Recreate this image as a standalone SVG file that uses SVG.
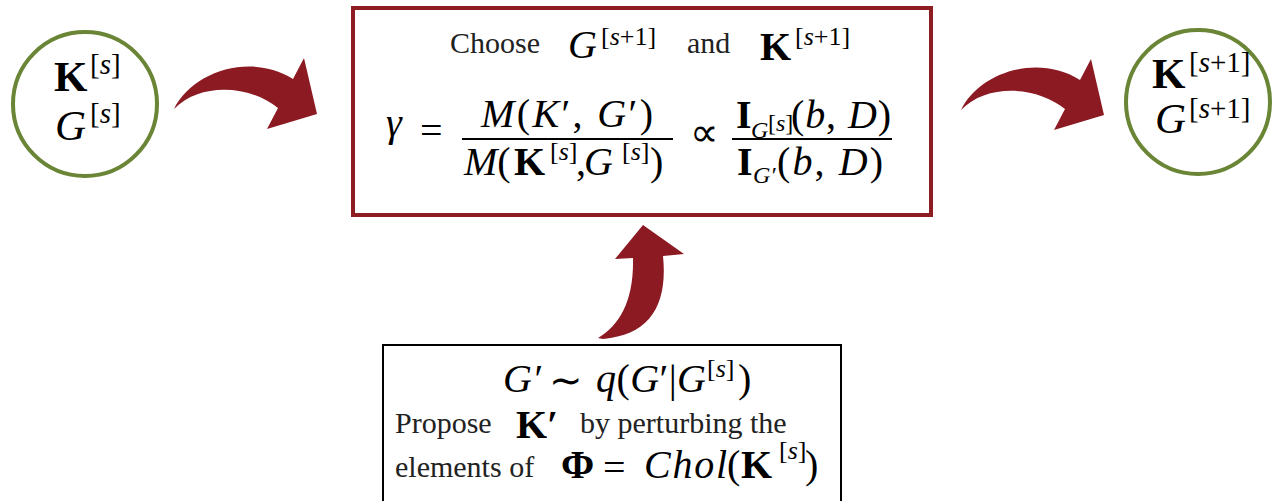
<svg xmlns="http://www.w3.org/2000/svg" width="1284" height="501" viewBox="0 0 1284 501">
<style>
.t{font-family:"Liberation Serif",serif;font-size:30px;fill:#222}
.m{font-family:"Liberation Serif",serif;font-size:40px;fill:#000}
.b{font-family:"Liberation Serif",serif;font-size:43px;fill:#000}
.s{font-family:"Liberation Serif",serif;font-size:26px;fill:#000}
.ss{font-family:"Liberation Serif",serif;font-size:29px;fill:#000}
.sb{font-family:"Liberation Serif",serif;font-size:24px;fill:#000}
.i{font-style:italic}
.w{font-weight:bold}
.circ{fill:#fff;stroke:#6a8535;stroke-width:4}
.arrow{fill:#8c1a22}
.rule{stroke:#000;stroke-width:1.8}
</style>
<rect width="1284" height="501" fill="#fff"/>
<g id="connectors">
<path class="arrow" d="M174,109 C192,72 250,52 293,79 L304,58 L317,114 L267,129 L278,108 C250,85 200,82 174,109 Z"/>
<path class="arrow" d="M961,110 C979,73 1037,53 1080,80 L1091,59 L1104,115 L1054,130 L1065,109 C1037,86 987,83 961,110 Z"/>
<path class="arrow" d="M598,338 C620,325 634,300 633,258 L615,259 L643,225 L684,254 L663,256 C668,305 650,335 603,339 Z"/>
</g>
<g id="node-left">
<circle class="circ" cx="85" cy="104" r="72"/>
<text class="b w" x="54" y="91">K</text>
<text class="ss" x="90" y="74">[<tspan class="i">s</tspan>]</text>
<text class="b i" x="55" y="140">G</text>
<text class="ss" x="90" y="123">[<tspan class="i">s</tspan>]</text>
</g>
<g id="node-right">
<circle class="circ" cx="1198" cy="102" r="72"/>
<text class="b w" x="1152" y="88">K</text>
<text class="ss" x="1189" y="72">[<tspan class="i">s</tspan>+1]</text>
<text class="b i" x="1155" y="133">G</text>
<text class="ss" x="1189" y="118">[<tspan class="i">s</tspan>+1]</text>
</g>
<g id="node-choose">
<rect x="353" y="8" width="578" height="207" fill="#fff" stroke="#8e1d23" stroke-width="4"/>
<text class="t" x="450" y="53">Choose</text>
<text class="m i" x="568" y="58">G</text>
<text class="s" x="601" y="45">[<tspan class="i">s</tspan>+1]</text>
<text class="t" x="687" y="53">and</text>
<text class="m w" x="760" y="60">K</text>
<text class="s" x="795" y="45">[<tspan class="i">s</tspan>+1]</text>
<text class="m i" x="386" y="136">γ</text>
<text class="m" x="420" y="144" font-size="46">=</text>
<line class="rule" x1="462" y1="139" x2="673" y2="139"/>
<text class="m" x="481" y="127" textLength="172" lengthAdjust="spacing"><tspan class="i">M</tspan>(<tspan class="i">K</tspan>′, <tspan class="i">G</tspan>′)</text>
<text class="m" x="464" y="175"><tspan class="i">M</tspan>(</text>
<text class="m w" x="514" y="175">K</text>
<text class="s" x="550" y="160">[<tspan class="i">s</tspan>]</text>
<text class="m" x="576" y="175">,</text>
<text class="m i" x="584" y="175">G</text>
<text class="s" x="622" y="160">[<tspan class="i">s</tspan>]</text>
<text class="m" x="650" y="175">)</text>
<text class="m" x="690" y="146" font-size="44">∝</text>
<line class="rule" x1="732" y1="139" x2="892" y2="139"/>
<text class="m w" x="736" y="128">I</text>
<text class="sb i" x="751" y="138">G</text>
<text class="sb" x="768" y="131" font-size="17">[<tspan class="i">s</tspan>]</text>
<text class="m" x="791" y="128" textLength="100" lengthAdjust="spacing">(<tspan class="i">b</tspan>, <tspan class="i">D</tspan>)</text>
<text class="m w" x="737" y="175">I</text>
<text class="sb i" x="753" y="183">G′</text>
<text class="m" x="777" y="175" textLength="106" lengthAdjust="spacing">(<tspan class="i">b</tspan>, <tspan class="i">D</tspan>)</text>
</g>
<g id="node-propose">
<rect x="383" y="345" width="458" height="160" fill="#fff" stroke="#000" stroke-width="2"/>
<text class="m i" x="503" y="392">G′</text>
<text class="m" x="549" y="394" font-size="46">∼</text>
<text class="m" x="596" y="392" textLength="110" lengthAdjust="spacing"><tspan class="i">q</tspan>(<tspan class="i">G</tspan>′|<tspan class="i">G</tspan></text>
<text class="s" x="707" y="377">[<tspan class="i">s</tspan>]</text>
<text class="m" x="738" y="392">)</text>
<text class="t" x="395" y="433">Propose</text>
<text class="m w" x="516" y="438">K′</text>
<text class="t" x="580" y="433">by perturbing the</text>
<text class="t" x="395" y="477">elements of</text>
<text class="m w" x="561" y="478" font-size="38">Φ</text>
<text class="m" x="603" y="481" font-size="46">=</text>
<text class="m i" x="644" y="478" textLength="83" lengthAdjust="spacing">Chol</text>
<text class="m" x="727" y="478">(</text>
<text class="m w" x="741" y="478">K</text>
<text class="s" x="779" y="459">[<tspan class="i">s</tspan>]</text>
<text class="m" x="805" y="478">)</text>
</g>
</svg>
